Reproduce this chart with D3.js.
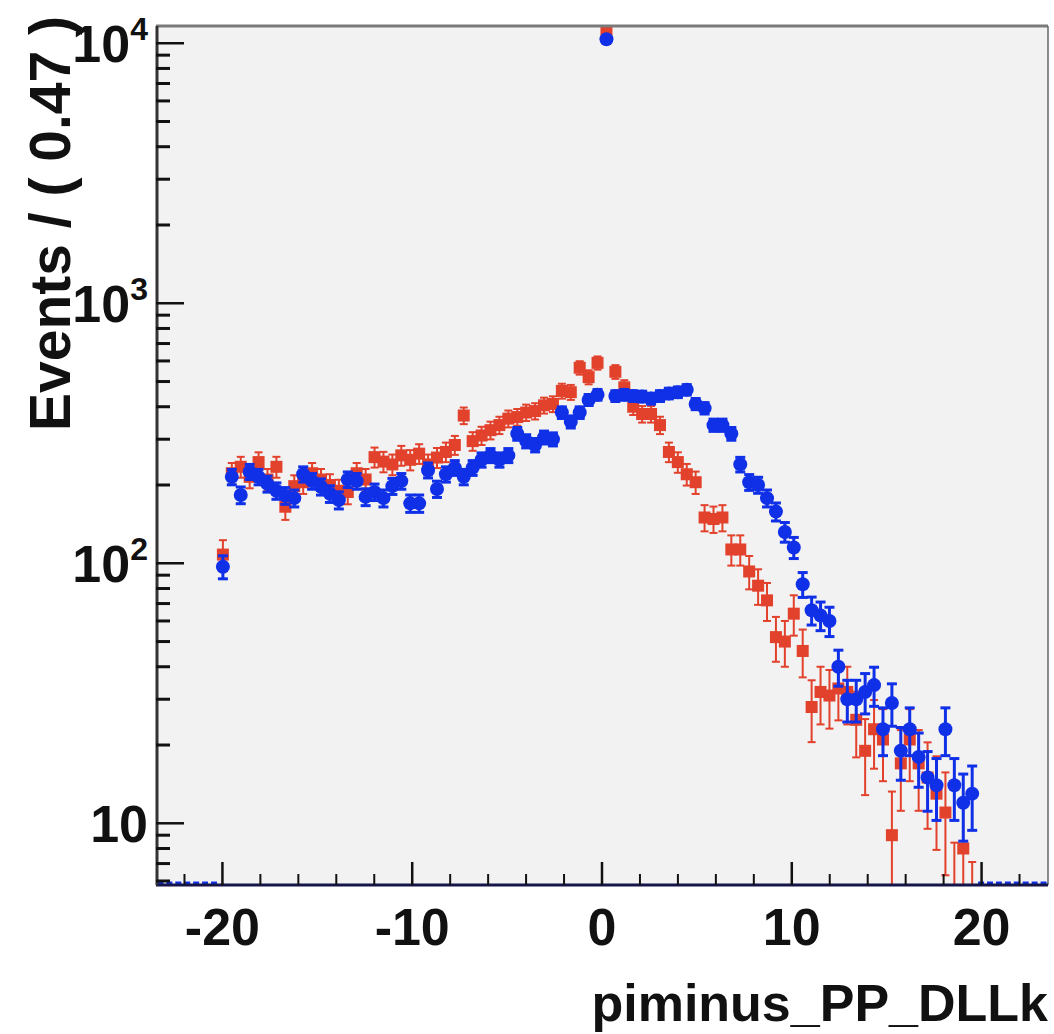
<!DOCTYPE html>
<html>
<head>
<meta charset="utf-8">
<script src="https://cdn.jsdelivr.net/npm/d3@7"></script>
<style>
body { margin: 0; background: #fff; }
svg { display: block; font-family: "Liberation Sans", Arial, Helvetica, sans-serif; font-weight: bold; }
</style>
</head>
<body>
<div id="chart"></div>
<script>
// histogram binning (100 bins over -23.5..23.5)
const xMin = -23.5, xMax = 23.5;
const binWidth = 0.47;
const firstCenter = -19.975;

// blue dataset, events per bin
const blueCounts = [
  97, 215, 183, 225, 215, 202, 190, 182, 178, 220,
  207, 197, 185, 175, 210, 207, 180, 188, 178, 198,
  207, 170, 170, 228, 193, 220, 233, 215, 233, 250,
  260, 250, 260, 315, 295, 285, 305, 300, 380, 350,
  380, 425, 445, 10360, 440, 445, 440, 438, 430, 440,
  450, 455, 465, 410, 395, 340, 340, 315, 240, 205,
  200, 178, 158, 132, 115, 83, 66, 63, 60, 40,
  30, 30, 32, 34, 23, 29, 19, 23, 18, 15,
  14, 23, 14, 12, 13
];

// red dataset (weighted), events per bin
const redCounts = [
  108, 222, 235, 215, 245, 210, 235, 165, 198, 205,
  222, 210, 200, 190, 188, 222, 210, 256, 246, 240,
  260, 250, 264, 240, 255, 268, 285, 370, 295, 310,
  325, 340, 360, 365, 380, 385, 405, 410, 460, 455,
  565, 520, 590, 11220, 545, 475, 400, 375, 375, 340,
  268, 245, 220, 205, 150, 148, 150, 113, 113, 93,
  82, 72, 52, 50, 64, 46, 28, 32, 31, 33,
  32, 25, 19, 23, 21, 9, 17, 21, 17, 15,
  13, 11, 5.2, 8, 4.2
];
const redWeight = 2.0;

const xMajorTicks = [-20, -10, 0, 10, 20];
const xMinorTicks = [-22, -18, -16, -14, -12, -8, -6, -4, -2, 2, 4, 6, 8, 12, 14, 16, 18, 22];
const yMajorTicks = [10, 100, 1000, 10000];
const yTickExponents = ["", "2", "3", "4"];

const xTitle = "piminus_PP_DLLk";
const yTitle = "Events / ( 0.47 )";

const W = 1054, H = 1034;
const plot = { left: 156, right: 1048, top: 26, bottom: 885 };

const svg = d3.select("#chart").append("svg")
  .attr("width", W).attr("height", H);

const x = d3.scaleLinear().domain([xMin, xMax]).range([plot.left, plot.right]);
const y = d3.scaleLog().domain([5.79, 11650]).range([plot.bottom, plot.top]);

svg.append("rect")
  .attr("x", plot.left).attr("y", plot.top)
  .attr("width", plot.right - plot.left).attr("height", plot.bottom - plot.top)
  .attr("fill", "#f2f2f2");

svg.append("clipPath").attr("id", "plotClip")
  .append("rect")
  .attr("x", plot.left).attr("y", plot.top)
  .attr("width", plot.right - plot.left).attr("height", plot.bottom - plot.top);

const marks = svg.append("g").attr("clip-path", "url(#plotClip)");

function binsOf(counts, w) {
  return counts.map((v, i) => {
    const err = Math.sqrt(v * w);
    return { x: firstCenter + binWidth * i, v: v, lo: Math.max(v - err, 1), hi: v + err };
  });
}

function drawSeries(data, color, lineW, capW, shape) {
  const g = marks.append("g");
  g.selectAll("line.err").data(data).join("line")
    .attr("class", "err")
    .attr("x1", d => x(d.x)).attr("x2", d => x(d.x))
    .attr("y1", d => y(d.lo)).attr("y2", d => y(d.hi))
    .attr("stroke", color).attr("stroke-width", lineW);
  ["lo", "hi"].forEach(k => {
    g.selectAll("line.cap" + k).data(data).join("line")
      .attr("class", "cap" + k)
      .attr("x1", d => x(d.x) - capW / 2).attr("x2", d => x(d.x) + capW / 2)
      .attr("y1", d => y(d[k])).attr("y2", d => y(d[k]))
      .attr("stroke", color).attr("stroke-width", lineW);
  });
  if (shape === "square") {
    g.selectAll("rect.pt").data(data).join("rect")
      .attr("class", "pt")
      .attr("x", d => x(d.x) - 6).attr("y", d => y(d.v) - 6)
      .attr("width", 12).attr("height", 12)
      .attr("fill", color);
  } else {
    g.selectAll("circle.pt").data(data).join("circle")
      .attr("class", "pt")
      .attr("cx", d => x(d.x)).attr("cy", d => y(d.v))
      .attr("r", 7)
      .attr("fill", color);
  }
}

drawSeries(binsOf(redCounts, redWeight), "#e2412c", 2, 8, "square");
drawSeries(binsOf(blueCounts, 1), "#1030e8", 3, 10, "circle");

// empty bins sit on the bottom edge
const emptyBins = d3.range(100)
  .map(i => xMin + binWidth * (i + 0.5))
  .filter(c => c < firstCenter - 0.1 || c > firstCenter + binWidth * (blueCounts.length - 1) + 0.1);
marks.selectAll("line.empty").data(emptyBins).join("line")
  .attr("class", "empty")
  .attr("x1", d => x(d) - 3).attr("x2", d => x(d) + 3)
  .attr("y1", plot.bottom - 2).attr("y2", plot.bottom - 2)
  .attr("stroke", "#1030e8").attr("stroke-width", 3);

// frame
svg.append("line")
  .attr("x1", plot.left).attr("x2", plot.right).attr("y1", plot.top).attr("y2", plot.top)
  .attr("stroke", "#7a7a7a").attr("stroke-width", 3);
svg.append("line")
  .attr("x1", plot.right).attr("x2", plot.right).attr("y1", plot.top).attr("y2", plot.bottom)
  .attr("stroke", "#666").attr("stroke-width", 1.5);

// x axis
const xAxis = svg.append("g");
xAxis.append("line")
  .attr("x1", plot.left).attr("x2", plot.right).attr("y1", plot.bottom).attr("y2", plot.bottom)
  .attr("stroke", "#15154a").attr("stroke-width", 3);
xAxis.selectAll("line.maj").data(xMajorTicks).join("line")
  .attr("class", "maj")
  .attr("x1", d => x(d)).attr("x2", d => x(d))
  .attr("y1", plot.bottom).attr("y2", plot.bottom - 23)
  .attr("stroke", "#111").attr("stroke-width", 2.5);
xAxis.selectAll("line.min").data(xMinorTicks).join("line")
  .attr("class", "min")
  .attr("x1", d => x(d)).attr("x2", d => x(d))
  .attr("y1", plot.bottom).attr("y2", plot.bottom - 11)
  .attr("stroke", "#111").attr("stroke-width", 2);
xAxis.selectAll("text").data(xMajorTicks).join("text")
  .attr("x", d => x(d)).attr("y", 945)
  .attr("text-anchor", "middle")
  .attr("font-size", 52)
  .attr("fill", "#111")
  .text(d => d);

// y axis
const yAxis = svg.append("g");
yAxis.append("line")
  .attr("x1", plot.left + 1).attr("x2", plot.left + 1).attr("y1", plot.top).attr("y2", plot.bottom)
  .attr("stroke", "#333").attr("stroke-width", 3);
const yMinor = [];
[1, 10, 100, 1000].forEach(dec => {
  for (let m = 2; m <= 9; m++) {
    const v = dec * m;
    if (v >= y.domain()[0] && v <= y.domain()[1]) yMinor.push(v);
  }
});
yAxis.selectAll("line.maj").data(yMajorTicks).join("line")
  .attr("class", "maj")
  .attr("x1", plot.left).attr("x2", plot.left + 28)
  .attr("y1", d => y(d)).attr("y2", d => y(d))
  .attr("stroke", "#111").attr("stroke-width", 2.5);
yAxis.selectAll("line.min").data(yMinor).join("line")
  .attr("class", "min")
  .attr("x1", plot.left).attr("x2", plot.left + 14)
  .attr("y1", d => y(d)).attr("y2", d => y(d))
  .attr("stroke", "#111").attr("stroke-width", 3);

// titles (y title goes under the tick labels, as in the original)
svg.append("text")
  .attr("x", 1048).attr("y", 1021)
  .attr("text-anchor", "end")
  .attr("font-size", 52)
  .attr("fill", "#111")
  .text(xTitle);
svg.append("text")
  .attr("transform", "translate(70,16) rotate(-90)")
  .attr("text-anchor", "end")
  .attr("font-size", 57)
  .attr("fill", "#111")
  .text(yTitle);

const yLab = yAxis.selectAll("text").data(yMajorTicks).join("text")
  .attr("x", 148).attr("y", d => y(d) + 19)
  .attr("text-anchor", "end")
  .attr("font-size", 52)
  .attr("fill", "#111");
yLab.append("tspan").text("10");
yLab.filter((d, i) => yTickExponents[i] !== "")
  .append("tspan")
  .attr("font-size", 32).attr("dy", -22)
  .text((d, i) => yTickExponents[yMajorTicks.indexOf(d)]);
yAxis.raise();
</script>
</body>
</html>
